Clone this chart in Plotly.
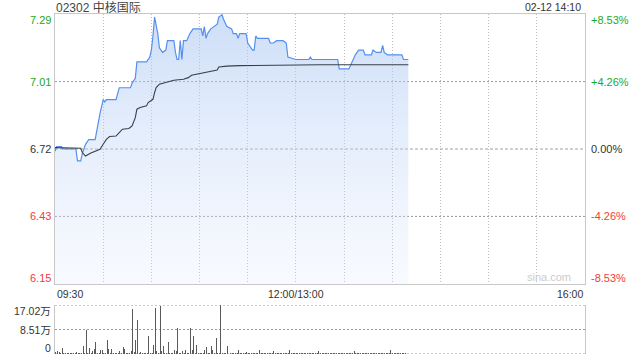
import plotly.graph_objects as go

# ---------------- data ----------------
title_text = "02302 中核国际"
date_text = "02-12 14:10"
prev_close = 6.72
pct_levels = [8.53, 4.26, 0.0, -4.26, -8.53]
price_labels = ["7.29", "7.01", "6.72", "6.43", "6.15"]
pct_labels = ["+8.53%", "+4.26%", "0.00%", "-4.26%", "-8.53%"]
time_ticks = [0, 150, 330]
time_labels = ["09:30", "12:00/13:00", "16:00"]
vol_ticks = [17.02, 8.51, 0]
vol_labels = ["17.02万", "8.51万", "0"]

# minute index since 09:30 (lunch break removed) and price
price_min = [0, 1, 4, 5, 13, 14, 16, 17, 19, 21, 25, 26, 28, 30, 31, 32, 38, 40, 47, 48,
             50, 51, 57, 59, 60, 61, 62, 64, 65, 67, 69, 70, 74, 75, 76, 77, 78, 79, 80, 82,
             84, 86, 91, 92, 93, 94, 95, 97, 99, 101, 102, 104, 105, 107, 110, 111, 113, 114, 115, 119,
             120, 123, 124, 125, 126, 133, 134, 136, 138, 142, 144, 145, 150, 158, 159, 160, 176, 177, 183, 185,
             187, 189, 192, 193, 197, 198, 200, 203, 204, 205, 207, 216, 217, 220]
price_val = [6.71, 6.73, 6.73, 6.72, 6.72, 6.67, 6.67, 6.70, 6.74, 6.76, 6.76, 6.80, 6.87, 6.93, 6.92, 6.93, 6.93, 6.98, 6.98, 7.00,
             7.02, 7.09, 7.09, 7.11, 7.14, 7.20, 7.28, 7.21, 7.15, 7.13, 7.14, 7.18, 7.18, 7.13, 7.10, 7.10, 7.18, 7.10, 7.18, 7.18,
             7.21, 7.23, 7.23, 7.20, 7.24, 7.19, 7.21, 7.23, 7.24, 7.25, 7.28, 7.29, 7.27, 7.24, 7.23, 7.21, 7.21, 7.19, 7.21, 7.21,
             7.17, 7.14, 7.14, 7.20, 7.19, 7.19, 7.17, 7.17, 7.18, 7.18, 7.17, 7.11, 7.10, 7.10, 7.11, 7.10, 7.10, 7.06, 7.06, 7.09,
             7.12, 7.14, 7.14, 7.12, 7.12, 7.14, 7.13, 7.13, 7.16, 7.13, 7.12, 7.12, 7.10, 7.10]

avg_min = [0, 16, 17, 19, 22, 25, 28, 30, 32, 34, 38, 40, 42, 46, 48, 50, 51, 53, 57, 58,
           61, 62, 63, 65, 69, 74, 80, 83, 85, 88, 92, 101, 102, 107, 115, 132, 152, 165, 220]
avg_val = [6.726, 6.723, 6.705, 6.690, 6.702, 6.712, 6.719, 6.740, 6.761, 6.773, 6.775, 6.790, 6.804, 6.807, 6.818, 6.853, 6.889, 6.896, 6.903, 6.917,
           6.931, 6.959, 6.981, 6.995, 7.002, 7.012, 7.016, 7.023, 7.033, 7.037, 7.041, 7.055, 7.068, 7.072, 7.074, 7.075, 7.077, 7.078, 7.078]

# volume per minute (万股), minutes 0..219
volume = [
    0.6, 1.2, 0.6, 0.3, 2.1, 0.4, 0.3, 0.2, 0.3, 0.4,
    0.3, 0.2, 0.4, 0.8, 0.3, 0.2, 0.5, 2.9, 0.3, 8.5,
    0.4, 2.1, 0.5, 0.9, 1.9, 4.0, 0.4, 0.3, 1.5, 1.5,
    0.3, 0.2, 4.7, 1.7, 0.4, 1.7, 0.3, 0.2, 0.4, 0.3,
    1.2, 0.5, 2.6, 1.7, 0.3, 0.2, 0.4, 0.9, 15.5, 0.6,
    4.7, 11.7, 0.4, 0.7, 0.3, 0.2, 0.4, 0.3, 6.4, 0.5,
    0.3, 3.3, 15.9, 1.2, 0.4, 16.7, 0.9, 2.9, 0.5, 0.3,
    4.0, 0.4, 0.3, 0.5, 1.5, 0.9, 9.1, 0.4, 0.3, 1.2,
    0.5, 1.3, 0.4, 0.3, 9.1, 1.5, 6.2, 0.4, 3.3, 0.3,
    0.2, 0.3, 0.4, 1.5, 2.4, 0.5, 0.3, 2.9, 1.3, 0.4,
    5.4, 0.3, 0.4, 17.02, 0.3, 0.2, 0.4, 2.9, 0.3, 0.2,
    0.3, 0.2, 0.4, 0.3, 1.5, 0.5, 0.3, 0.2, 0.4, 0.6,
    0.3, 0.2, 0.4, 0.3, 0.2, 0.5, 0.3, 1.5, 0.4, 0.2,
    0.3, 0.2, 0.4, 0.3, 0.5, 0.2, 1.2, 0.3, 0.2, 0.4,
    0.3, 0.2, 0.5, 0.3, 0.2, 0.4, 1.5, 0.3, 0.2, 0.4,
    0.3, 0.2, 0.4, 0.3, 0.5, 0.2, 0.3, 0.4, 0.2, 0.3,
    0.5, 0.2, 0.3, 0.4, 1.2, 0.3, 0.2, 0.4, 0.3, 0.2,
    0.3, 0.5, 0.2, 0.3, 0.4, 0.2, 0.3, 0.5, 0.2, 0.3,
    0.4, 0.2, 0.3, 0.5, 0.2, 0.4, 1.2, 0.3, 0.2, 0.4,
    0.3, 0.2, 0.5, 0.3, 0.2, 0.4, 0.3, 0.2, 0.5, 0.3,
    0.2, 0.4, 0.3, 0.2, 0.5, 0.3, 0.2, 0.4, 0.3, 1.3,
    0.3, 0.2, 0.4, 0.3, 0.2, 0.5, 0.3, 0.2, 0.4, 0.3,
]
vol_min = list(range(len(volume)))

# ---------------- styling ----------------
FONT = "Arial, Liberation Sans, Noto Sans CJK SC, sans-serif"
GREEN = "#1ea81e"
RED = "#f33b3b"
DARK = "#333333"
GRID = "#bdbdbd"
HGRID = "#999999"
GRID_DASH = "1px,2px"
HDASH = "2px,2px"

level_prices = [prev_close * (1 + p / 100) for p in pct_levels]
ymin, ymax = level_prices[-1], level_prices[0]

fig = go.Figure()

fig.add_trace(go.Scatter(
    x=price_min, y=price_val, mode="lines",
    line=dict(color="#5590ee", width=1.2),
    fill="tozeroy",
    fillgradient=dict(type="vertical",
                      colorscale=[[0, "rgba(225,235,252,0.25)"], [1, "rgba(164,195,242,0.55)"]],
                      start=ymin, stop=ymax),
    xaxis="x", yaxis="y", hoverinfo="skip", showlegend=False))

fig.add_trace(go.Scatter(
    x=avg_min, y=avg_val, mode="lines",
    line=dict(color="#3a3f4a", width=1.1),
    xaxis="x", yaxis="y", hoverinfo="skip", showlegend=False))

fig.add_trace(go.Bar(
    x=vol_min, y=volume, width=0.62,
    marker=dict(color="#5a5a5a", line=dict(width=0)),
    xaxis="x2", yaxis="y2", hoverinfo="skip", showlegend=False))

L, R, T, B = 55, 55, 14, 6
H = 360 - T - B
main_bottom = (360 - B - 284) / H
vol_top = (360 - B - 305) / H

grid_x = list(range(30, 330, 30))

fig.update_layout(
    width=640, height=360,
    margin=dict(l=L, r=R, t=T, b=B, pad=0),
    paper_bgcolor="white", plot_bgcolor="rgba(0,0,0,0)",
    font=dict(family=FONT, size=11, color=DARK),
    bargap=0,
    xaxis=dict(domain=[0, 1], range=[0, 330], tickvals=grid_x, showticklabels=False,
               showgrid=True, gridcolor=GRID, griddash=GRID_DASH, gridwidth=1,
               showline=True, linecolor="#c8c8c8", linewidth=1, mirror=True,
               zeroline=False, ticks="", fixedrange=True),
    yaxis=dict(domain=[main_bottom, 1], range=[ymin, ymax],
               showticklabels=False, showgrid=False,
               showline=True, linecolor="#c8c8c8", linewidth=1, mirror=True,
               zeroline=False, ticks="", fixedrange=True),
    xaxis2=dict(domain=[0, 1], range=[-0.5, 330], anchor="y2", showticklabels=False,
                showgrid=False, showline=False, zeroline=False, ticks="", fixedrange=True),
    yaxis2=dict(domain=[0, vol_top], range=[0, 17.02], anchor="x2",
                showticklabels=False, showgrid=False, zeroline=False,
                showline=True, linecolor="#c8c8c8", linewidth=1, mirror=True,
                ticks="", fixedrange=True),
)

shapes = []
# horizontal price grid lines (+/-4.26%)
for yv in (level_prices[1], level_prices[3]):
    shapes.append(dict(type="line", xref="x", yref="y", x0=0, x1=330,
                       y0=yv, y1=yv, layer="between",
                       line=dict(color=HGRID, width=1, dash=HDASH)))
# previous close dashed line
shapes.append(dict(type="line", xref="x", yref="y", x0=0, x1=330,
                   y0=prev_close, y1=prev_close, layer="between",
                   line=dict(color="#a0a0a0", width=1, dash="3px,2px")))
# volume dotted grid lines
for v in vol_ticks:
    shapes.append(dict(type="line", xref="x2", yref="y2", x0=-0.5, x1=330,
                       y0=v, y1=v, layer="between",
                       line=dict(color=HGRID, width=1, dash=HDASH)))
fig.update_layout(shapes=shapes)

ann = []
n = len(pct_levels)
for i, (yv, pl, cl, p) in enumerate(zip(level_prices, price_labels, pct_labels, pct_levels)):
    col = GREEN if p > 0 else (RED if p < 0 else DARK)
    ys = -6 if i == 0 else (6 if i == n - 1 else 0)
    ann.append(dict(xref="paper", yref="y", x=0, y=yv, text=pl, showarrow=False,
                    xanchor="right", yanchor="middle", xshift=-2, yshift=ys,
                    font=dict(size=11, color=col, family=FONT)))
    ann.append(dict(xref="paper", yref="y", x=1, y=yv, text=cl, showarrow=False,
                    xanchor="left", yanchor="middle", xshift=4, yshift=ys,
                    font=dict(size=11, color=col, family=FONT)))

anchors = ["left", "center", "right"]
for tv, tl, a in zip(time_ticks, time_labels, anchors):
    ann.append(dict(xref="x", yref="y domain", x=tv, y=0, text=tl, showarrow=False,
                    xanchor=a, yanchor="top", yshift=-2,
                    font=dict(size=10.5, color=DARK, family=FONT)))

for i, (vv, vl) in enumerate(zip(vol_ticks, vol_labels)):
    ys = -6 if i == 0 else (6 if i == len(vol_ticks) - 1 else 0)
    ann.append(dict(xref="paper", yref="y2", x=0, y=vv, text=vl, showarrow=False,
                    xanchor="right", yanchor="middle", xshift=-2, yshift=ys,
                    font=dict(size=10.5, color=DARK, family=FONT)))

ann.append(dict(xref="paper", yref="paper", x=0, y=1, text=title_text, showarrow=False,
                xanchor="left", yanchor="middle", xshift=-1, yshift=7,
                font=dict(size=12, color="#444444", family=FONT)))
ann.append(dict(xref="paper", yref="paper", x=1, y=1, text=date_text, showarrow=False,
                xanchor="right", yanchor="middle", xshift=-2, yshift=7,
                font=dict(size=10.5, color=DARK, family=FONT)))
ann.append(dict(xref="paper", yref="y domain", x=1, y=0, text="sina.com", showarrow=False,
                xanchor="right", yanchor="bottom", xshift=-12, yshift=-1,
                font=dict(size=11, color="#cccccc", family=FONT)))
fig.update_layout(annotations=ann)

fig.write_html("out.html", config={"displayModeBar": False, "staticPlot": True})
